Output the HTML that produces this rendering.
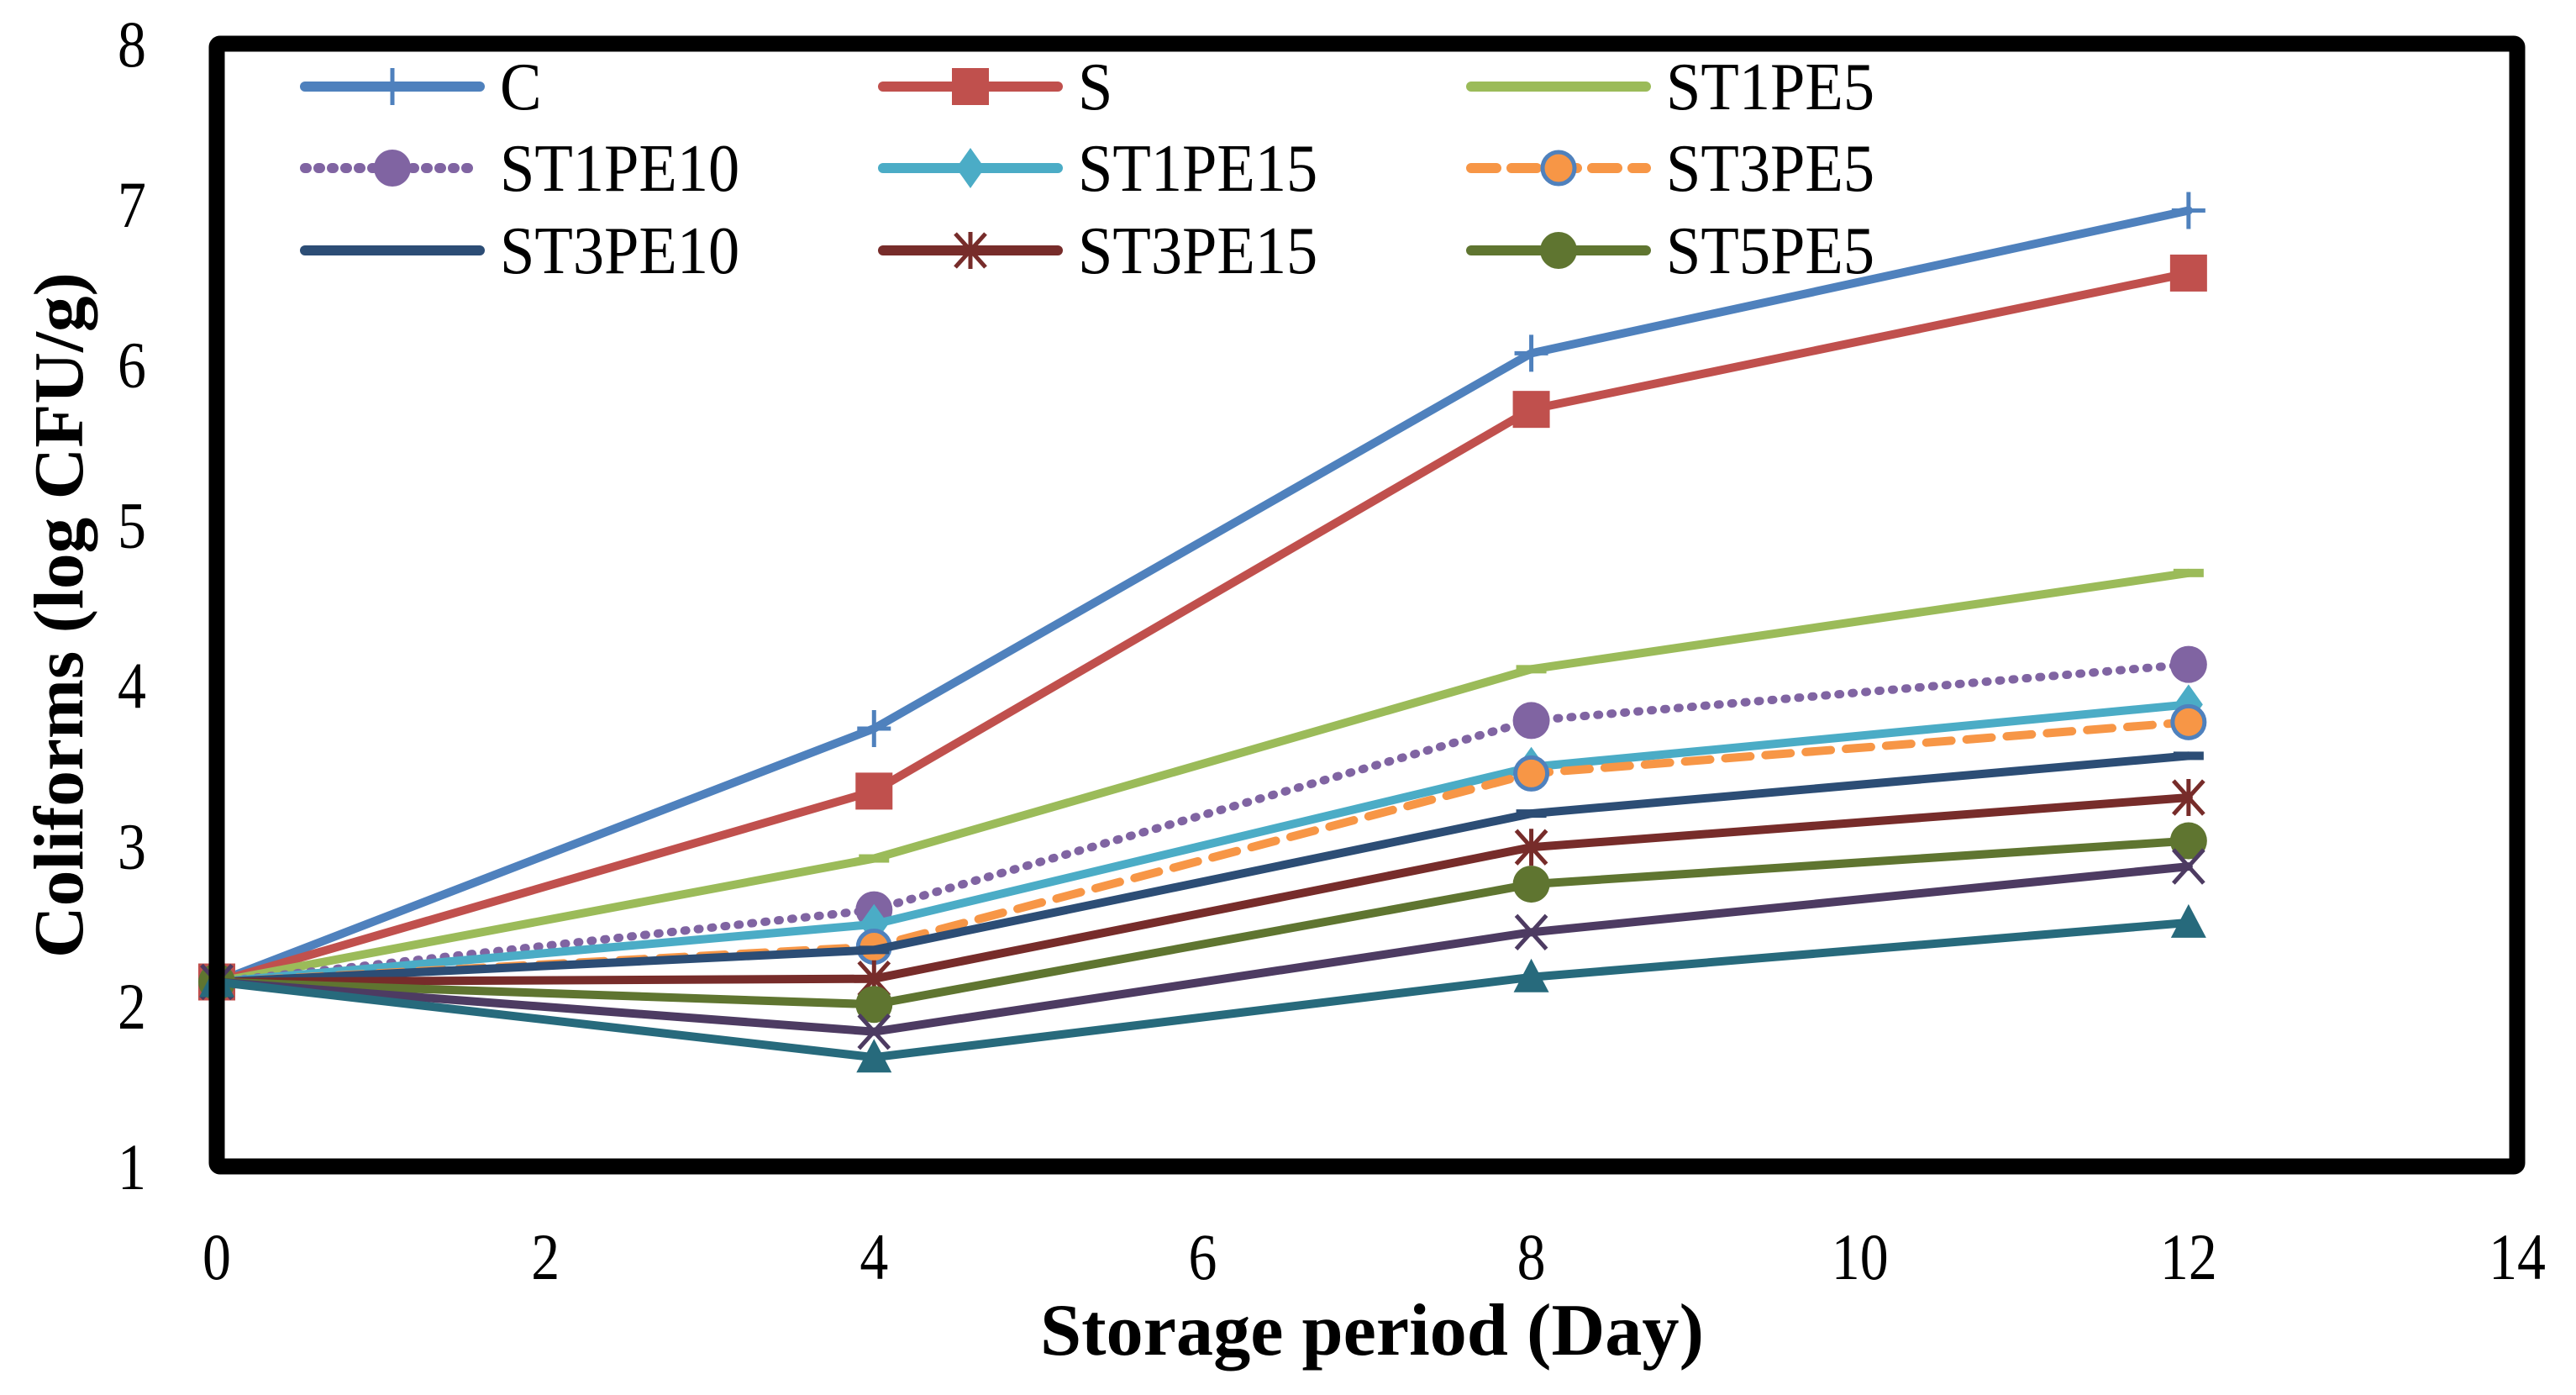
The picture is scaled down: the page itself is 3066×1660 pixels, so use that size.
<!DOCTYPE html>
<html><head><meta charset="utf-8"><title>Coliforms chart</title>
<style>html,body{margin:0;padding:0;background:#fff;}svg{display:block;}text{font-family:"Liberation Serif",serif;fill:#000;}</style>
</head><body>
<svg id="chart" width="3066" height="1660" viewBox="0 0 3066 1660" xmlns="http://www.w3.org/2000/svg">
<g id="plot"></g>
<g id="axes"></g>
<g id="legend"></g>
</svg>
<script>
const days = [0, 4, 8, 12];
const seriesNames = ["C","S","ST1PE5","ST1PE10","ST1PE15","ST3PE5","ST3PE10","ST3PE15","ST5PE5","ST5PE10","ST5PE15"];
const valsC = [2.15, 3.73, 6.07, 6.96];
const valsS = [2.15, 3.34, 5.72, 6.57];
const valsST1PE5 = [2.15, 2.92, 4.10, 4.70];
const valsST1PE10 = [2.15, 2.60, 3.78, 4.13];
const valsST1PE15 = [2.15, 2.51, 3.49, 3.88];
const valsST3PE5 = [2.15, 2.37, 3.45, 3.77];
const valsST3PE10 = [2.15, 2.35, 3.20, 3.56];
const valsST3PE15 = [2.15, 2.17, 2.99, 3.30];
const valsST5PE5 = [2.15, 2.01, 2.76, 3.03];
const valsST5PE10 = [2.15, 1.84, 2.46, 2.87];
const valsST5PE15 = [2.15, 1.68, 2.18, 2.52];
const xTicks = [0, 2, 4, 6, 8, 10, 12, 14];
const yTicks = [1, 2, 3, 4, 5, 6, 7, 8];

const NS = "http://www.w3.org/2000/svg";
const X0 = 258, X1 = 2996, Y0 = 1388, Y1 = 52;
function xs(v){ return X0 + (v - 0) / 14 * (X1 - X0); }
function ys(v){ return Y0 - (v - 1) / 7 * (Y0 - Y1); }
function mk(tag, attrs, parent){ const e = document.createElementNS(NS, tag); for (const k in attrs) e.setAttribute(k, attrs[k]); parent.appendChild(e); return e; }

const styles = [
 {data: valsC, color:"#4F81BD", marker:"plus", dash:null, legend:true},
 {data: valsS, color:"#C0504D", marker:"square", dash:null, legend:true},
 {data: valsST1PE5, color:"#9BBB59", marker:"dash", dash:null, legend:true},
 {data: valsST1PE10, color:"#8064A2", marker:"circle", dash:"2 14", legend:true},
 {data: valsST1PE15, color:"#4BACC6", marker:"diamond", dash:null, legend:true},
 {data: valsST3PE5, color:"#F79646", marker:"ocircle", dash:"30 18", legend:true},
 {data: valsST3PE10, color:"#2C4D75", marker:"dash", dash:null, legend:true},
 {data: valsST3PE15, color:"#772C2A", marker:"star", dash:null, legend:true},
 {data: valsST5PE5, color:"#5F7530", marker:"circle", dash:null, legend:true},
 {data: valsST5PE10, color:"#4D3B62", marker:"x", dash:null, legend:false},
 {data: valsST5PE15, color:"#276A7C", marker:"triangle", dash:null, legend:false}
];

function drawMarker(g, type, cx, cy, color){
  let e;
  if (type === "plus") {
    e = mk("path", {d:`M${cx-20} ${cy}H${cx+20}M${cx} ${cy-22}V${cy+22}`, stroke:color, "stroke-width":5, fill:"none"}, g);
  } else if (type === "square") {
    e = mk("rect", {x:cx-22, y:cy-22, width:44, height:44, fill:color}, g);
  } else if (type === "dash") {
    e = mk("rect", {x:cx-18, y:cy-5, width:36, height:10, fill:color}, g);
  } else if (type === "circle") {
    e = mk("circle", {cx:cx, cy:cy, r:22, fill:color}, g);
  } else if (type === "ocircle") {
    e = mk("circle", {cx:cx, cy:cy, r:19, fill:color, stroke:"#4F81BD", "stroke-width":5}, g);
  } else if (type === "diamond") {
    e = mk("path", {d:`M${cx} ${cy-24}L${cx+17} ${cy}L${cx} ${cy+24}L${cx-17} ${cy}Z`, fill:color}, g);
  } else if (type === "star") {
    e = mk("path", {d:`M${cx} ${cy-22}V${cy+22}M${cx-18} ${cy-20}L${cx+18} ${cy+20}M${cx+18} ${cy-20}L${cx-18} ${cy+20}`, stroke:color, "stroke-width":5, fill:"none"}, g);
  } else if (type === "x") {
    e = mk("path", {d:`M${cx-18} ${cy-20}L${cx+18} ${cy+20}M${cx+18} ${cy-20}L${cx-18} ${cy+20}`, stroke:color, "stroke-width":5, fill:"none"}, g);
  } else if (type === "triangle") {
    e = mk("path", {d:`M${cx} ${cy-22}L${cx+21} ${cy+18}L${cx-21} ${cy+18}Z`, fill:color}, g);
  }
  return e;
}

const plot = document.getElementById("plot");
styles.forEach((s, i) => {
  const g = mk("g", {}, plot);
  
  
  const pts = days.map((d, j) => xs(d) + "," + ys(s.data[j])).join(" ");
  const line = mk("polyline", {points: pts, fill:"none", stroke:s.color, "stroke-width":10, "stroke-linejoin":"round", "stroke-linecap":"round"}, g);
  if (s.dash) line.setAttribute("stroke-dasharray", s.dash);
  
  
  days.forEach((d, j) => {
    const m = drawMarker(g, s.marker, xs(d), ys(s.data[j]), s.color);
    
    
  });
});

const axes = document.getElementById("axes");
const frame = mk("rect", {x:X0, y:Y1, width:X1-X0, height:Y0-Y1, fill:"none", stroke:"#000", "stroke-width":19, rx:4}, axes);


yTicks.forEach(v => {
  const t = mk("text", {x:0, y:0, "font-size":78, "text-anchor":"middle", transform:`translate(157,${ys(v)+27}) scale(0.87,1)`}, axes);
  t.textContent = v;
  
  
});
xTicks.forEach(v => {
  const t = mk("text", {x:0, y:0, "font-size":78, "text-anchor":"middle", transform:`translate(${xs(v)},1522) scale(0.87,1)`}, axes);
  t.textContent = v;
  
  
});
const xt = mk("text", {x:1633, y:1612, "font-size":88, "font-weight":"bold", "text-anchor":"middle", textLength:790, lengthAdjust:"spacingAndGlyphs"}, axes);
xt.textContent = "Storage period (Day)";


const yt = mk("text", {x:0, y:0, "font-size":84, "font-weight":"bold", "text-anchor":"middle", textLength:816, lengthAdjust:"spacingAndGlyphs", transform:"translate(98,732) rotate(-90)"}, axes);
yt.textContent = "Coliforms (log CFU/g)";



const legend = document.getElementById("legend");
const colX = [357, 1045, 1745];
const rowY = [103, 200, 298];
styles.forEach((s, i) => {
  if (!s.legend) return;
  const cx = colX[i % 3], cy = rowY[Math.floor(i / 3)];
  const g = mk("g", {}, legend);
  
  
  const ln = mk("line", {x1:cx+6, y1:cy, x2:cx+214, y2:cy, stroke:s.color, "stroke-width":12, "stroke-linecap":"round"}, g);
  if (s.dash) ln.setAttribute("stroke-dasharray", s.dash);
  drawMarker(g, s.marker, cx + 110, cy, s.color);
  const t = mk("text", {x:0, y:0, "font-size":80, transform:`translate(${cx+238},${cy+27}) scale(0.93,1)`}, g);
  t.textContent = seriesNames[i];
});
</script>
</body></html>
